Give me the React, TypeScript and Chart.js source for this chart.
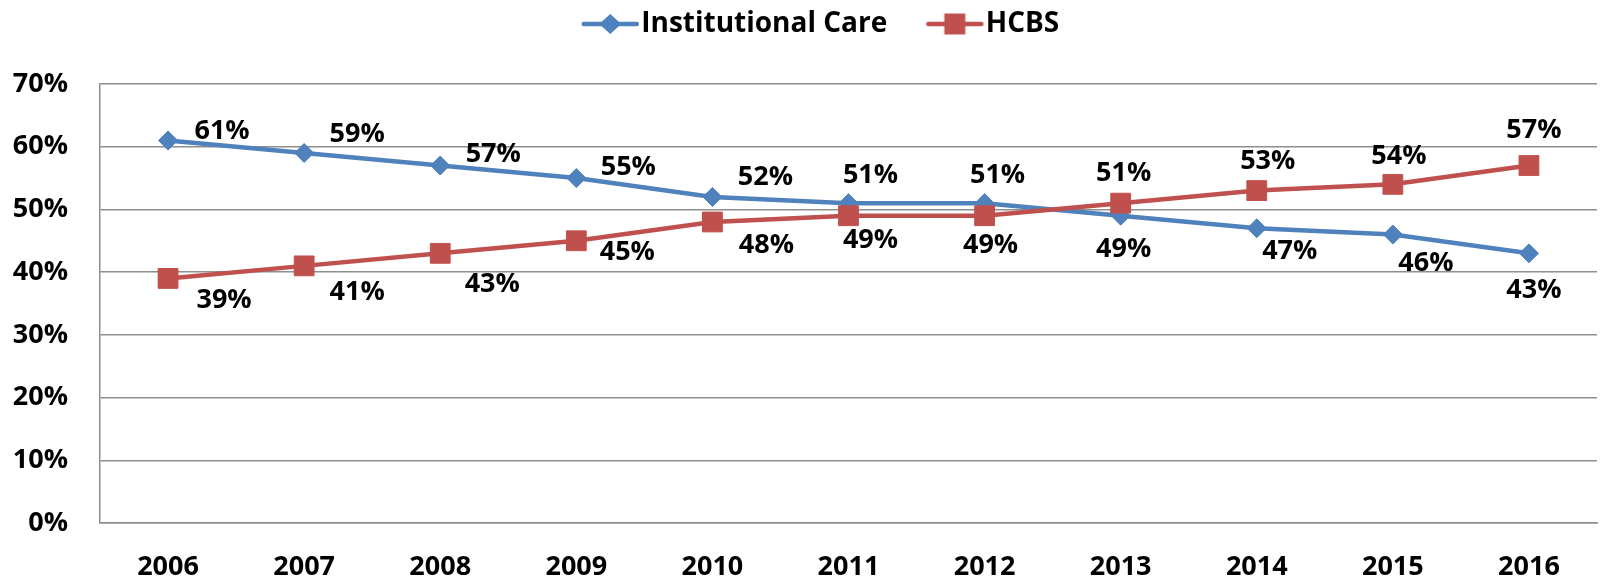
import React, { useEffect, useRef } from "react";
import { Chart, registerables } from "chart.js";

Chart.register(...registerables);

const years = ["2006", "2007", "2008", "2009", "2010", "2011", "2012", "2013", "2014", "2015", "2016"];
const institutionalCare = [61, 59, 57, 55, 52, 51, 51, 49, 47, 46, 43];
const hcbs = [39, 41, 43, 45, 48, 49, 49, 51, 53, 54, 57];
const yTickValues = [0, 10, 20, 30, 40, 50, 60, 70];

// label placement offsets (pixels from the point), style only
const instLabelOffsets = [[54, -9], [53, -19], [53, -11], [52, -11], [53, -20], [22, -28], [13, -28], [3, 34], [33, 23], [33, 29], [5, 37]];
const hcbsLabelOffsets = [[56, 22], [53, 26], [52, 31], [51, 12], [54, 23], [22, 25], [6, 30], [3, -30], [11, -29], [6, -28], [5, -35]];

const BLUE = "#4F81BD";
const RED = "#C0504D";
const GRID = "#8e8e8e";
const FONT = "'Open Sans'";

function makeLegendIcon(color: string, kind: "diamond" | "square") {
  const c = document.createElement("canvas");
  c.width = 100;
  c.height = 24;
  const ctx = c.getContext("2d")!;
  const x0 = 41.75;
  const x1 = 98.75;
  const cy = 12;
  ctx.strokeStyle = color;
  ctx.lineWidth = 4.5;
  ctx.lineCap = "round";
  ctx.beginPath();
  ctx.moveTo(x0 + 2, cy);
  ctx.lineTo(x1 - 2, cy);
  ctx.stroke();
  const cx = (x0 + x1) / 2;
  ctx.fillStyle = color;
  ctx.beginPath();
  if (kind === "diamond") {
    ctx.moveTo(cx - 11, cy);
    ctx.lineTo(cx, cy - 10);
    ctx.lineTo(cx + 11, cy);
    ctx.lineTo(cx, cy + 10);
    ctx.closePath();
  } else {
    ctx.rect(cx - 10.5, cy - 10.5, 21, 21);
  }
  ctx.fill();
  return c;
}

const dataLabelPlugin = {
  id: "dataLabels",
  afterDatasetsDraw(chart: any) {
    const ctx = chart.ctx;
    ctx.save();
    ctx.font = `bold 27px ${FONT}`;
    ctx.fillStyle = "#000";
    ctx.textAlign = "center";
    ctx.textBaseline = "middle";
    const offsets = [instLabelOffsets, hcbsLabelOffsets];
    chart.data.datasets.forEach((ds: any, di: number) => {
      const meta = chart.getDatasetMeta(di);
      meta.data.forEach((pt: any, i: number) => {
        const [dx, dy] = offsets[di][i];
        ctx.fillText(`${ds.data[i]}%`, pt.x + dx, pt.y + dy);
      });
    });
    ctx.restore();
  },
};

export default function App() {
  const ref = useRef<HTMLCanvasElement | null>(null);

  useEffect(() => {
    if (!ref.current) return;
    const icons = [makeLegendIcon(BLUE, "diamond"), makeLegendIcon(RED, "square")];
    const chart = new Chart(ref.current, {
      type: "line",
      data: {
        labels: years,
        datasets: [
          {
            label: "Institutional Care",
            data: institutionalCare,
            borderColor: BLUE,
            backgroundColor: BLUE,
            borderWidth: 4.5,
            pointStyle: "rectRot",
            pointRadius: 9.5,
            pointBorderWidth: 1,
            pointBackgroundColor: BLUE,
            pointBorderColor: BLUE,
            tension: 0,
            order: 0,
          },
          {
            label: "HCBS",
            data: hcbs,
            borderColor: RED,
            backgroundColor: RED,
            borderWidth: 4.5,
            pointStyle: "rect",
            pointRadius: 14,
            pointBorderWidth: 1,
            pointBackgroundColor: RED,
            pointBorderColor: RED,
            tension: 0,
            order: -1,
          },
        ],
      },
      options: {
        responsive: false,
        animation: false,
        devicePixelRatio: 1,
        layout: { padding: { left: 0, top: 0, right: 0, bottom: 0 } },
        font: { family: FONT },
        plugins: {
          tooltip: { enabled: false },
          legend: {
            display: true,
            position: "top",
            labels: {
              usePointStyle: true,
              pointStyleWidth: 74.5,
              padding: 10,
              color: "#000",
              font: { family: FONT, size: 28, weight: "bold" },
              sort: (a: any, b: any) => a.datasetIndex - b.datasetIndex,
              generateLabels: (chart: any) => {
                const items = (Chart as any).defaults.plugins.legend.labels.generateLabels(chart);
                return items.map((it: any) => ({
                  ...it,
                  pointStyle: icons[it.datasetIndex],
                  rotation: 0,
                }));
              },
            },
          },
          title: {
            display: true,
            text: " ",
            weight: 500,
            font: { size: 10 },
            padding: { top: 24, bottom: 0 },
          },
        },
        scales: {
          x: {
            type: "category",
            offset: true,
            grid: { display: false, drawTicks: false },
            border: { display: true, color: GRID, width: 1.5 },
            ticks: {
              color: "#000",
              padding: 28,
              font: { family: FONT, size: 27, weight: "bold" },
              maxRotation: 0,
            },
            afterFit: (scale: any) => {
              scale.height = 53;
            },
          },
          y: {
            min: 0,
            max: 70,
            afterBuildTicks: (scale: any) => {
              scale.ticks = yTickValues.map((v) => ({ value: v }));
            },
            grid: { color: GRID, lineWidth: 1.5, drawTicks: false },
            border: { display: true, color: GRID, width: 1.5 },
            ticks: {
              color: "#000",
              padding: 32,
              font: { family: FONT, size: 27, weight: "bold" },
              callback: (v: any) => `${v}%`,
            },
            afterFit: (scale: any) => {
              scale.width = 100;
            },
          },
        },
      },
      plugins: [dataLabelPlugin],
    });
    return () => chart.destroy();
  }, []);

  return (
    <div style={{ position: "fixed", left: 0, top: 0, width: 1604, height: 576, overflow: "hidden", background: "#fff" }}>
      <canvas ref={ref} width={1612} height={576} style={{ display: "block" }} />
    </div>
  );
}
